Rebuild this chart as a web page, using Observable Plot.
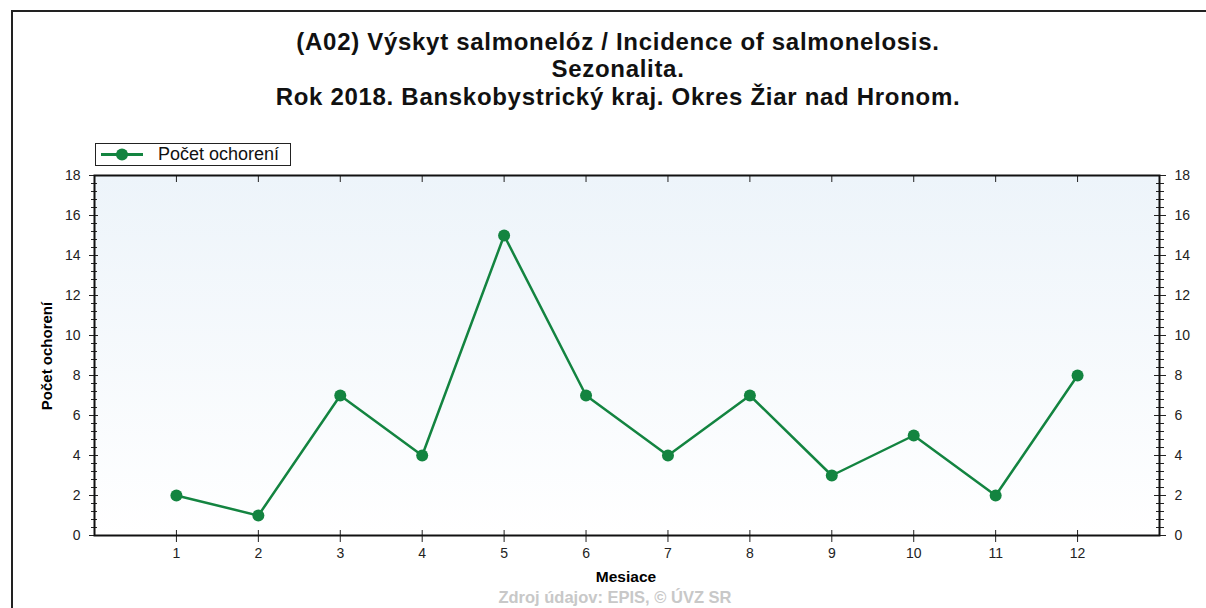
<!DOCTYPE html>
<html><head><meta charset="utf-8">
<script src="https://cdn.jsdelivr.net/npm/d3@7"></script>
<script src="https://cdn.jsdelivr.net/npm/@observablehq/plot@0.6"></script>
<style>
body{margin:0;background:#fff;font-family:Arial,"Liberation Sans",sans-serif;}
#wrap{position:relative;width:1206px;height:608px;overflow:hidden;}
#frame{position:absolute;left:11px;top:10px;width:1300px;height:700px;border-left:2px solid #222;border-top:2px solid #222;}
.t{position:absolute;left:0;width:1236px;text-align:center;font-weight:bold;font-size:24px;letter-spacing:0.7px;color:#111;line-height:28px;}
#legend{position:absolute;left:95px;top:143px;width:194px;height:21px;border:1px solid #222;background:#fff;font-size:18px;}
#legend span{position:absolute;left:62px;top:0px;color:#111;line-height:21px;}
#ylab{position:absolute;left:46px;top:356px;transform:translate(-50%,-50%) rotate(-90deg);font-weight:bold;font-size:15px;white-space:nowrap;}
#xlab{position:absolute;left:626px;top:577px;transform:translate(-50%,-50%);font-weight:bold;font-size:15.5px;}
#cap{position:absolute;left:615px;top:597px;transform:translate(-50%,-50%);font-weight:bold;font-size:16.5px;color:#c8c8c8;white-space:nowrap;}
#chart{position:absolute;left:0;top:0;}
</style></head>
<body><div id="wrap">
<div id="frame"></div>
<div class="t" style="top:28px">(A02) Výskyt salmonelóz / Incidence of salmonelosis.</div>
<div class="t" style="top:55px">Sezonalita.</div>
<div class="t" style="top:83px">Rok 2018. Banskobystrický kraj. Okres Žiar nad Hronom.</div>
<div id="chart"></div>
<div id="legend"><svg width="60" height="21" style="position:absolute;left:0;top:0" id="legsvg"></svg><span>Počet ochorení</span></div>
<div id="ylab">Počet ochorení</div>
<div id="xlab">Mesiace</div>
<div id="cap">Zdroj údajov: EPIS, © ÚVZ SR</div>
</div>
<script>
const months = [1,2,3,4,5,6,7,8,9,10,11,12];
const cases = [2,1,7,4,15,7,4,7,3,5,2,8];
const yMajor = [0,2,4,6,8,10,12,14,16,18];
const yMinor = d3.range(0, 18.001, 0.4).filter(v => Math.abs(v/2 - Math.round(v/2)) > 1e-6);
const seriesName = "Počet ochorení";
const green = "#138440";

const data = months.map((m,i) => ({month:m, value:cases[i]}));

const plot = Plot.plot({
  width: 1206, height: 608,
  marginLeft: 94, marginRight: 47, marginTop: 175, marginBottom: 73,
  style: {fontFamily: "Arial, 'Liberation Sans', sans-serif", fontSize: "14px", color: "#222", background: "transparent"},
  x: {domain: [0, 13], axis: null},
  y: {domain: [0, 18], axis: null},
  marks: [
    Plot.frame({fill: "url(#bggrad)", stroke: "none"}),
    Plot.axisY(yMajor, {anchor: "left", tickSize: 5, tickPadding: 9, label: null, fontSize: 14}),
    Plot.axisY(yMajor, {anchor: "left", tickSize: -4, text: null, label: null}),
    Plot.axisY(yMinor, {anchor: "left", tickSize: 3, text: null, label: null}),
    Plot.axisY(yMinor, {anchor: "left", tickSize: -3, text: null, label: null}),
    Plot.axisY(yMajor, {anchor: "right", tickSize: 6, tickPadding: 9, label: null, fontSize: 14}),
    Plot.axisY(yMajor, {anchor: "right", tickSize: -6, text: null, label: null}),
    Plot.axisY(yMinor, {anchor: "right", tickSize: 4, text: null, label: null}),
    Plot.axisY(yMinor, {anchor: "right", tickSize: -4, text: null, label: null}),
    Plot.axisX(months, {anchor: "bottom", tickSize: 7, tickPadding: 6, label: null, fontSize: 14}),
    Plot.axisX(months, {anchor: "bottom", tickSize: -5, text: null, label: null}),
    Plot.axisX(months, {anchor: "top", tickSize: -6, text: null, label: null}),
    Plot.frame({stroke: "#111", strokeWidth: 2}),
    Plot.line(data, {x: "month", y: "value", stroke: green, strokeWidth: 2.5}),
    Plot.dot(data, {x: "month", y: "value", r: 6, fill: green, stroke: "none"})
  ]
});
const svg = d3.select(plot);
const defs = svg.insert("defs", ":first-child");
const g = defs.append("linearGradient").attr("id","bggrad").attr("x1",0).attr("x2",0).attr("y1",0).attr("y2",1);
g.append("stop").attr("offset","0%").attr("stop-color","#edf4fa");
g.append("stop").attr("offset","100%").attr("stop-color","#ffffff");
document.getElementById("chart").appendChild(plot);

const leg = d3.select("#legsvg");
leg.append("line").attr("x1",5).attr("x2",47).attr("y1",10.5).attr("y2",10.5).attr("stroke",green).attr("stroke-width",3);
leg.append("circle").attr("cx",26).attr("cy",10.5).attr("r",6).attr("fill",green);
</script>
</body></html>
